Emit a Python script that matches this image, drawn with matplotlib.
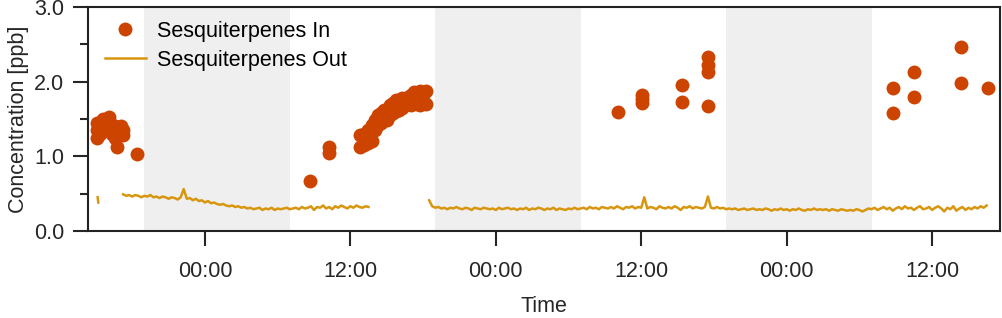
import numpy as np
import pandas as pd
import matplotlib
matplotlib.use("Agg")
import matplotlib.pyplot as plt
import matplotlib.dates as mdates
from matplotlib.ticker import MultipleLocator

plt.rcParams['font.family'] = ['Liberation Sans', 'DejaVu Sans']

base = pd.Timestamp("2021-06-02 00:00")

# Sesquiterpenes In (hours from first midnight, ppb)
in_hours = [-8.9, -8.9, -8.9, -8.65, -8.65, -8.4, -8.4, -8.15, -8.15, -7.9, -7.9,
            -7.65, -7.65, -7.4, -7.4, -7.2, -7.2, -6.95, -6.95, -6.75, -6.75,
            -7.25, -5.6,
            8.65, 10.2, 10.2,
            12.8, 12.8, 13.1, 13.1, 13.45, 13.45, 13.8, 13.8, 14.0, 14.0, 14.3, 14.3,
            14.5, 14.5, 14.75, 14.75, 15.0, 15.0, 15.25, 15.25, 15.5, 15.5, 15.75, 15.75,
            16.0, 16.0, 16.25, 16.25, 16.5, 16.5, 16.75, 16.75, 17.0, 17.0, 17.25, 17.25,
            17.5, 17.5, 17.75, 17.75, 18.0, 18.0, 18.2, 18.2,
            34.05, 36.1, 36.1, 36.1, 39.4, 39.4, 41.5, 41.5, 41.5, 41.5,
            56.75, 56.75, 58.5, 58.5, 62.35, 62.35, 64.6]
in_vals = [1.25, 1.35, 1.45, 1.3, 1.45, 1.4, 1.5, 1.35, 1.5, 1.45, 1.52,
           1.3, 1.42, 1.25, 1.4, 1.3, 1.38, 1.32, 1.4, 1.28, 1.35,
           1.13, 1.03,
           0.67, 1.13, 1.04,
           1.12, 1.28, 1.15, 1.3, 1.18, 1.35, 1.2, 1.42, 1.35, 1.48, 1.42, 1.55,
           1.45, 1.58, 1.5, 1.62, 1.48, 1.6, 1.55, 1.68, 1.58, 1.72, 1.6, 1.75,
           1.62, 1.72, 1.65, 1.78, 1.68, 1.75, 1.7, 1.8, 1.68, 1.82, 1.72, 1.86,
           1.7, 1.8, 1.68, 1.88, 1.72, 1.82, 1.7, 1.88,
           1.59, 1.82, 1.77, 1.72, 1.96, 1.73, 2.33, 2.22, 2.13, 1.67,
           1.91, 1.58, 2.13, 1.80, 2.46, 1.98, 1.91]

# Sesquiterpenes Out, 15 min records
out0_hours = [-8.85, -8.8]
out0_vals = [0.45, 0.38]

out1_start = -6.75
out1_vals = [0.49, 0.47, 0.48, 0.46, 0.48, 0.47, 0.45, 0.47, 0.46, 0.48, 0.45, 0.46,
             0.44, 0.46, 0.45, 0.43, 0.45, 0.44, 0.42, 0.45,
             0.56, 0.43, 0.44, 0.41, 0.43, 0.40, 0.41, 0.38, 0.40, 0.37, 0.38, 0.36,
             0.35, 0.36, 0.34, 0.33, 0.34, 0.32, 0.33, 0.31, 0.32, 0.30,
             0.31, 0.29, 0.30, 0.31, 0.28, 0.30, 0.29, 0.31, 0.28, 0.30, 0.29, 0.30, 0.31, 0.29,
             0.30, 0.31, 0.29, 0.32, 0.30, 0.31, 0.33, 0.28, 0.32, 0.31, 0.34, 0.30, 0.32,
             0.29, 0.33, 0.31, 0.34, 0.32, 0.30, 0.33, 0.31, 0.34, 0.32, 0.31, 0.33, 0.32]

out2_start = 18.5
out2_vals = [0.41, 0.33, 0.31, 0.32, 0.30, 0.31, 0.29, 0.31, 0.30, 0.32,
             0.30, 0.29, 0.31, 0.30, 0.28, 0.31, 0.30, 0.29, 0.31, 0.30,
             0.29, 0.30, 0.28, 0.31, 0.29, 0.30, 0.31, 0.29, 0.30, 0.28,
             0.30, 0.29, 0.31, 0.28, 0.30, 0.29, 0.31, 0.30, 0.28, 0.30,
             0.29, 0.31, 0.28, 0.30, 0.29, 0.28, 0.30, 0.29, 0.31, 0.29,
             0.30, 0.31, 0.29, 0.32, 0.30, 0.31, 0.29, 0.32, 0.31, 0.30,
             0.32, 0.30, 0.33, 0.31, 0.29, 0.32, 0.31, 0.33, 0.30, 0.32,
             0.31, 0.45, 0.30, 0.32, 0.31, 0.29, 0.33, 0.31, 0.30, 0.32,
             0.30, 0.33, 0.31, 0.28, 0.32, 0.31, 0.33, 0.30, 0.32, 0.31,
             0.30, 0.32, 0.46, 0.31, 0.30, 0.32, 0.30, 0.31, 0.29, 0.30,
             0.29, 0.30, 0.28, 0.29, 0.30, 0.28, 0.29, 0.30, 0.28, 0.29,
             0.28, 0.30, 0.29, 0.27, 0.29, 0.28, 0.30, 0.28, 0.29, 0.27,
             0.29, 0.28, 0.30, 0.28, 0.27, 0.29, 0.28, 0.30, 0.28, 0.29,
             0.28, 0.29, 0.27, 0.29, 0.28, 0.27, 0.29, 0.28, 0.27, 0.28,
             0.27, 0.29, 0.28, 0.26, 0.28, 0.30, 0.29, 0.31, 0.28, 0.30,
             0.32, 0.29, 0.31, 0.27, 0.30, 0.32, 0.29, 0.33, 0.30, 0.31,
             0.28, 0.31, 0.33, 0.29, 0.30, 0.32, 0.28, 0.31, 0.33, 0.30,
             0.26, 0.31, 0.29, 0.33, 0.27, 0.30, 0.32, 0.28, 0.31, 0.29,
             0.32, 0.30, 0.33, 0.31, 0.34]

# nights (19:00 - 07:00), hours from first midnight
night_start = [-5, 19, 43]
night_end = [7, 31, 55]

xlim_hours = [-9.65, 65.6]


def to_time(h):
    return base + pd.to_timedelta(np.asarray(h, dtype=float), unit="h")


c_in = "#cc4400"
c_out = "#d8960f"
fs = 15.5

fig = plt.figure(figsize=(10.02, 3.18), dpi=100)
ax = fig.add_axes([0.0878, 0.274, 0.9102, 0.704])

for a, b in zip(night_start, night_end):
    ax.axvspan(to_time(a), to_time(b), color="#efefef", lw=0, zorder=0)

t1 = to_time(out1_start + 0.25 * np.arange(len(out1_vals)))
t2 = to_time(out2_start + 0.25 * np.arange(len(out2_vals)))
ax.plot(to_time(out0_hours), out0_vals, color=c_out, lw=1.8, zorder=2)
ax.plot(t1, out1_vals, color=c_out, lw=1.8, zorder=2)
ax.plot(t2, out2_vals, color=c_out, lw=1.8, zorder=2)
ax.plot(to_time(in_hours), in_vals, "o", color=c_in, ms=10, mec="none", zorder=3,
        label="Sesquiterpenes In")
ax.plot([], [], color=c_out, lw=1.8, label="Sesquiterpenes Out")

ax.set_xlim(to_time(xlim_hours[0]), to_time(xlim_hours[1]))
ax.set_ylim(0, 3)
ax.yaxis.set_major_locator(MultipleLocator(1))
ax.yaxis.set_minor_locator(MultipleLocator(0.5))
ax.yaxis.set_major_formatter(plt.FormatStrFormatter("%.1f"))
ax.xaxis.set_major_locator(mdates.HourLocator(byhour=[0, 12]))
ax.xaxis.set_major_formatter(mdates.DateFormatter("%H:%M"))

txt = "#262626"
ax.tick_params(axis="both", which="major", length=11, width=1.5, labelsize=fs,
               colors=txt, direction="out")
ax.tick_params(axis="y", which="minor", length=5.5, width=1.5, colors=txt)
ax.tick_params(axis="y", which="major", pad=6)
ax.tick_params(axis="x", which="major", pad=10.5)
for s in ax.spines.values():
    s.set_linewidth(1.5)
    s.set_color("#222222")

ax.set_xlabel("Time", fontsize=fs, color=txt, labelpad=10)
ax.set_ylabel("Concentration [ppb]", fontsize=fs, color=txt, labelpad=4)

ax.legend(loc="upper left", frameon=False, fontsize=fs, handlelength=1.9,
          labelspacing=0.35, borderaxespad=0, borderpad=0, handletextpad=0.5,
          bbox_to_anchor=(17 / 912, 1 - 14 / 224))

fig.savefig("out.png", dpi=100)
